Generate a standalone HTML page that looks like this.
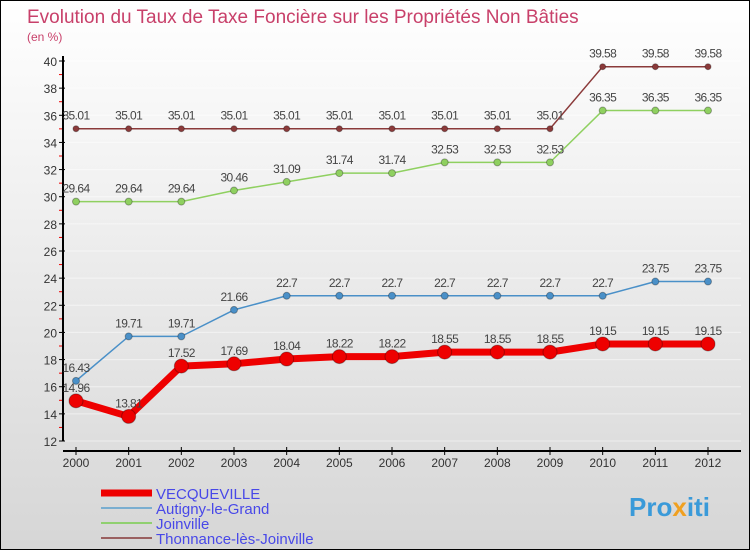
<!DOCTYPE html>
<html><head><meta charset="utf-8"><style>
body{margin:0}
#c{width:750px;height:550px;position:relative;box-sizing:border-box;border:1px solid #000;background:linear-gradient(#fff,#d6d6d6);font-family:"Liberation Sans",sans-serif;overflow:hidden}
svg text{font-family:"Liberation Sans",sans-serif}
</style></head><body>
<div id="c">
<svg id="s" width="750" height="550">
<text x="26" y="22" font-size="19" fill="#c8406a">Evolution du Taux de Taxe Foncière sur les Propriétés Non Bâties</text>
<text x="26" y="40" font-size="12" fill="#c8406a">(en %)</text>
<text x="628" y="515" font-size="26" font-weight="bold" fill="#3a9ad9">Pro<tspan fill="#f0a020">x</tspan>iti</text>
</svg></div>
<script>
const years=[2000,2001,2002,2003,2004,2005,2006,2007,2008,2009,2010,2011,2012];
const yTicks=[12,14,16,18,20,22,24,26,28,30,32,34,36,38,40];
const vecqueville=[14.96,13.81,17.52,17.69,18.04,18.22,18.22,18.55,18.55,18.55,19.15,19.15,19.15];
const autigny=[16.43,19.71,19.71,21.66,22.7,22.7,22.7,22.7,22.7,22.7,22.7,23.75,23.75];
const joinville=[29.64,29.64,29.64,30.46,31.09,31.74,31.74,32.53,32.53,32.53,36.35,36.35,36.35];
const thonnance=[35.01,35.01,35.01,35.01,35.01,35.01,35.01,35.01,35.01,35.01,39.58,39.58,39.58];
const labels={vecqueville:["14.96","13.81","17.52","17.69","18.04","18.22","18.22","18.55","18.55","18.55","19.15","19.15","19.15"],autigny:["16.43","19.71","19.71","21.66","22.7","22.7","22.7","22.7","22.7","22.7","22.7","23.75","23.75"],joinville:["29.64","29.64","29.64","30.46","31.09","31.74","31.74","32.53","32.53","32.53","36.35","36.35","36.35"],thonnance:["35.01","35.01","35.01","35.01","35.01","35.01","35.01","35.01","35.01","35.01","39.58","39.58","39.58"]};
const s=document.getElementById('s');const NS='http://www.w3.org/2000/svg';
function X(i){return 75+i*(707-75)/(years.length-1);}
function Y(v){return 440-(v-12)*(380/28);}
function mk(t,a,p){const e=document.createElementNS(NS,t);for(const k in a)e.setAttribute(k,a[k]);(p||s).appendChild(e);return e;}
yTicks.forEach(v=>{const g=mk('line',{x1:62,x2:740,y1:Y(v),y2:Y(v),stroke:'#fff','stroke-width':1,opacity:0.5});


const t=mk('text',{x:56,y:Y(v)+5,'font-size':12,fill:'#333','text-anchor':'end'});t.textContent=v;


mk('line',{x1:58,x2:64,y1:Y(v),y2:Y(v),stroke:'#000'});
if(v<40)mk('line',{x1:58,x2:62,y1:Y(v+1),y2:Y(v+1),stroke:'#e00'});});
const ya=mk('line',{x1:62,x2:62,y1:55,y2:440,stroke:'#000','stroke-width':2});


const xa=mk('line',{x1:62,x2:740,y1:450,y2:450,stroke:'#000','stroke-width':2});


years.forEach((y,i)=>{mk('line',{x1:X(i),x2:X(i),y1:446,y2:454,stroke:'#000'});
const t=mk('text',{x:X(i),y:466,'font-size':12,fill:'#333','text-anchor':'middle'});t.textContent=y;

});
function series(vals,labs,col,w,r,name){
const pl=mk('polyline',{points:vals.map((v,i)=>X(i)+','+Y(v)).join(' '),fill:'none',stroke:col,'stroke-width':w,'stroke-linejoin':'round'});


vals.forEach((v,i)=>{const c=mk('circle',{cx:X(i),cy:Y(v),r:r,fill:col,stroke:'rgba(0,0,0,0.3)'});


const t=mk('text',{x:X(i),y:Y(v)-9,'font-size':12,fill:'#444','text-anchor':'middle','letter-spacing':'-0.6'});t.textContent=labs[i];

});}
series(thonnance,labels.thonnance,'#8b3a3a',1.5,3,'thonnance');
series(joinville,labels.joinville,'#8fd060',1.5,3.5,'joinville');
series(autigny,labels.autigny,'#4a90c8',1.5,3.5,'autigny');
series(vecqueville,labels.vecqueville,'#ee0000',7,7,'vecqueville');
const leg=[['VECQUEVILLE','#ee0000',7],['Autigny-le-Grand','#7aaed0',2],['Joinville','#90d070',2],['Thonnance-lès-Joinville','#9a6060',2]];
leg.forEach((l,i)=>{const y=492+i*15;mk('line',{x1:100,x2:151,y1:y,y2:y,stroke:l[1],'stroke-width':l[2]});
const t=mk('text',{x:155,y:y+6,'font-size':15,fill:'#4848e8'});t.textContent=l[0];

});
</script>
</body></html>
